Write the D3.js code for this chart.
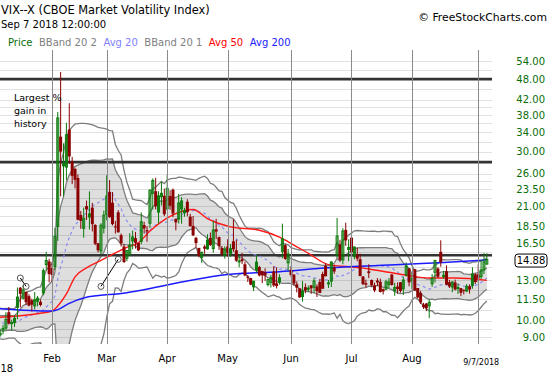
<!DOCTYPE html>
<html><head><meta charset="utf-8">
<script src="https://cdn.jsdelivr.net/npm/d3@7"></script>
<style>body{margin:0;background:#fff;} svg{display:block;} text{font-family:"DejaVu Sans",Verdana,sans-serif;}</style>
</head><body><svg id="c" width="550" height="375"></svg>
<script>
// ---------- data ----------
const priorCloses = [11.68,11.33,11.02,10.16,9.58,9.34,10.18,10.18,10.49,9.42,9.53,10.03,9.72,9.62,9.90,10.25,10.47,10.18,11.04];
const dates = ["01-02","01-03","01-04","01-05","01-08","01-09","01-10","01-11","01-12","01-16","01-17","01-18","01-19","01-22","01-23","01-24","01-25","01-26","01-29","01-30","01-31",
"02-01","02-02","02-05","02-06","02-07","02-08","02-09","02-12","02-13","02-14","02-15","02-16","02-20","02-21","02-22","02-23","02-26","02-27","02-28",
"03-01","03-02","03-05","03-06","03-07","03-08","03-09","03-12","03-13","03-14","03-15","03-16","03-19","03-20","03-21","03-22","03-23","03-26","03-27","03-28","03-29",
"04-02","04-03","04-04","04-05","04-06","04-09","04-10","04-11","04-12","04-13","04-16","04-17","04-18","04-19","04-20","04-23","04-24","04-25","04-26","04-27","04-30",
"05-01","05-02","05-03","05-04","05-07","05-08","05-09","05-10","05-11","05-14","05-15","05-16","05-17","05-18","05-21","05-22","05-23","05-24","05-25","05-29","05-30","05-31",
"06-01","06-04","06-05","06-06","06-07","06-08","06-11","06-12","06-13","06-14","06-15","06-18","06-19","06-20","06-21","06-22","06-25","06-26","06-27","06-28","06-29",
"07-02","07-03","07-05","07-06","07-09","07-10","07-11","07-12","07-13","07-16","07-17","07-18","07-19","07-20","07-23","07-24","07-25","07-26","07-27","07-30","07-31",
"08-01","08-02","08-03","08-06","08-07","08-08","08-09","08-10","08-13","08-14","08-15","08-16","08-17","08-20","08-21","08-22","08-23","08-24","08-27","08-28","08-29","08-30","08-31",
"09-04","09-05","09-06","09-07"];
const opens = [10.95,9.66,9.15,9.13,9.41,9.54,10.57,9.83,9.89,10.91,12.39,11.58,12.05,11.73,11.43,11.02,11.35,11.31,11.98,14.40,14.70,
14.09,14.23,18.44,33.05,27.34,27.12,34.60,28.09,26.80,25.27,19.86,18.22,21.05,19.61,20.84,18.63,16.55,15.73,18.27,
19.95,23.09,21.53,18.45,20.22,17.44,16.20,15.01,15.34,16.79,17.10,16.57,16.75,18.61,18.02,18.84,22.87,23.19,20.25,22.38,22.51,
20.70,22.49,23.43,19.38,19.36,20.66,20.16,21.66,19.66,18.51,17.13,16.05,15.10,16.19,15.95,17.13,15.98,18.12,17.21,16.03,15.28,
16.18,15.51,16.75,15.81,14.70,14.91,14.43,13.32,13.19,12.47,13.89,14.17,13.81,13.68,12.65,12.84,13.76,12.75,12.87,15.69,16.34,14.57,
13.92,13.49,12.67,12.34,11.71,12.44,12.35,12.59,12.43,12.49,12.87,13.55,14.29,12.76,12.93,14.14,15.31,16.41,14.84,18.04,15.89,
17.16,15.19,15.32,14.91,13.33,12.76,13.79,13.03,12.59,12.98,12.88,12.27,12.28,12.66,13.50,12.15,12.49,12.84,12.31,13.47,14.05,
12.97,13.98,12.37,11.98,11.11,11.19,11.02,12.72,13.70,14.04,15.64,13.33,13.80,12.84,12.45,12.82,12.32,12.36,12.22,12.13,12.51,12.58,13.51,
13.52,13.32,13.93,14.45];
const highs = [11.07,9.80,9.51,9.49,9.74,10.57,10.93,10.08,10.37,12.41,12.45,12.62,12.11,11.88,11.55,12.05,11.75,11.48,14.05,15.65,14.95,
14.64,18.30,38.80,50.30,31.64,36.17,41.06,28.98,27.01,25.88,20.39,20.84,21.82,23.17,21.50,18.72,16.57,18.84,20.45,
25.72,24.92,23.07,19.13,20.51,17.62,16.48,15.81,17.66,17.98,17.81,16.60,20.21,19.02,18.48,23.47,25.20,25.30,23.19,24.72,23.58,
25.84,23.33,23.59,19.42,22.80,22.31,20.84,22.01,20.02,19.74,17.24,16.05,15.64,16.38,17.54,17.73,19.11,19.38,17.27,16.24,16.21,
16.98,16.46,19.33,16.94,15.30,15.53,14.69,13.46,13.22,12.95,15.34,14.29,13.84,14.06,13.05,13.46,14.25,14.14,13.52,18.78,16.45,15.93,
14.25,13.53,12.91,12.37,12.95,12.74,12.57,12.61,13.18,12.67,13.09,13.75,14.55,13.03,14.72,14.39,19.50,16.92,18.24,18.90,16.96,
17.57,16.20,16.07,15.46,13.36,13.06,14.43,13.08,12.80,13.19,13.15,12.34,13.05,13.20,13.53,12.80,12.83,12.86,13.31,14.61,14.09,
13.61,13.99,12.37,12.14,11.24,11.22,11.49,13.54,14.85,14.15,16.86,13.83,14.33,13.04,12.93,13.06,12.73,12.36,12.27,12.69,12.67,14.15,13.61,
14.40,14.86,15.52,15.50];
const lows = [9.52,9.04,8.92,9.01,9.16,9.39,9.76,9.39,9.61,10.10,10.90,11.48,11.08,10.99,10.62,10.76,10.99,10.98,11.80,13.85,12.84,
12.87,13.89,16.80,22.42,22.42,24.89,27.71,24.28,23.62,19.21,18.16,17.15,19.24,18.07,17.86,16.33,15.59,15.41,17.63,
19.19,19.50,18.57,17.61,17.72,16.19,14.55,14.72,15.33,15.91,15.98,15.72,16.44,17.62,16.70,18.25,20.58,20.61,18.81,21.14,19.73,
20.45,20.56,19.59,17.99,18.80,18.78,19.65,19.71,18.42,17.32,16.07,15.09,14.57,15.45,15.86,16.26,15.55,16.99,15.85,15.26,14.97,
15.16,15.15,15.64,14.66,14.15,14.44,13.36,12.86,12.60,12.13,13.68,13.33,12.77,12.95,12.50,12.41,12.45,12.34,12.65,15.01,14.86,13.84,
13.32,12.57,12.02,11.61,11.33,11.95,12.05,11.91,12.00,11.67,11.98,12.31,13.35,12.37,12.45,13.55,15.04,14.69,14.44,16.27,14.72,
15.51,14.90,14.72,13.35,12.61,12.41,13.19,12.46,12.04,12.52,12.01,11.86,12.19,12.36,12.56,11.76,11.93,12.00,11.83,13.32,12.51,
12.29,12.15,11.56,11.15,10.80,10.65,10.17,12.46,12.82,13.22,14.21,13.13,12.59,12.37,12.04,12.18,11.90,11.73,11.86,12.04,11.93,12.31,12.69,
12.86,13.11,13.54,14.40];
const closes = [9.77,9.15,9.22,9.22,9.52,10.08,9.82,9.88,10.16,11.66,11.91,12.22,11.27,11.03,11.10,11.47,11.58,11.08,13.84,14.79,13.54,
13.47,17.31,37.32,29.98,27.73,33.46,29.06,25.61,24.97,19.26,19.13,19.46,20.60,20.02,18.72,16.49,15.80,18.59,19.85,
22.47,19.59,18.73,18.36,17.76,16.54,14.64,15.78,16.35,17.23,16.59,15.80,19.02,18.20,17.86,23.34,24.87,21.03,22.50,22.87,19.97,
23.62,21.10,20.06,18.94,21.49,21.77,20.47,20.24,18.49,17.41,16.56,15.25,15.60,15.96,16.88,16.34,18.02,17.84,16.24,15.41,15.93,
15.49,15.97,15.90,14.77,14.75,14.71,13.42,13.23,12.65,12.93,14.63,13.42,13.43,13.42,13.08,13.22,12.58,12.53,13.22,17.02,14.94,15.43,
13.46,12.74,12.40,11.64,12.13,12.18,12.35,12.34,12.94,12.12,11.98,12.31,13.35,12.79,14.64,13.77,17.33,14.85,17.91,16.85,16.09,
15.60,16.14,14.97,13.37,12.69,12.64,13.63,12.58,12.18,12.83,12.06,12.10,12.87,12.86,12.62,12.41,12.29,12.14,13.03,14.26,12.83,
13.15,12.19,11.64,11.27,10.93,10.85,11.27,13.16,14.78,13.31,14.64,13.45,12.64,12.49,12.86,12.25,12.41,11.99,12.16,12.50,12.25,13.53,12.86,
13.16,13.91,14.65,14.88];
const avg50Dates  = ["01-02","01-12","01-26","02-01","02-05","02-08","02-13","02-20","02-27","03-12","03-16","03-22","04-04","04-13","04-20","05-02","05-16","05-25","05-31","06-11","06-20","06-29","07-11","07-20","07-31","08-09","08-22","09-07"];
const avg50Values = [10.2,10.3,10.5,10.65,11.0,11.9,13.3,14.1,14.8,16.1,16.6,17.9,19.9,20.6,19.4,18.4,18.0,17.2,16.7,15.5,14.4,14.2,14.0,13.7,13.4,13.2,13.2,13.0];
const avg200Dates  = ["01-02","02-01","02-05","02-09","02-16","03-12","03-19","04-10","05-01","05-25","06-20","07-26","08-16","09-07"];
const avg200Values = [10.85,10.65,10.75,11.2,11.6,12.0,12.2,12.9,13.5,13.75,14.1,14.4,14.6,14.85];
const axisLabels = [54,48,42,38,34,30,26,23.5,21,18.5,16.5,13,11.5,10,9];
const gridValues = [54,51,48,45,42,40,38,36,34,32,30,28,26,24.7,23.5,22.2,21,19.7,18.5,17.5,16.5,15.6,14.2,13,12.2,11.5,10.7,10,9.5,9];
const levelLines = [48,28,15.3];
const monthTickDates  = ["02-01","03-01","04-02","05-01","06-01","07-02","08-01","09-04"];
const monthTickLabels = ["Feb","Mar","Apr","May","Jun","Jul","Aug","9/7/2018"];
const yearLabel = "18";
const legendItems = ["Price","BBand 20 2","Avg 20","BBand 20 1","Avg 50","Avg 200"];
const legendColors = ["#0a6e0a","#808080","#8080ff","#808080","#ff0000","#1a1aff"];
const noteLines = ["Largest %","gain in","history"];
const trendMarks = [[["01-17",13.2],["01-19",12.5]],[["02-27",12.5],["03-07",14.9]]];

// ---------- setup ----------
const svg = d3.select("#c");
const idxOf = d => dates.indexOf(d);
const x = d3.scaleLinear().domain([idxOf("02-01"), idxOf("09-04")]).range([52, 478.2]);
const y = d3.scaleLog().domain([9, 54]).range([337, 61]);
const yc = v => y(Math.max(v, 0.5));
const plot = {l:0, r:492, t:50, b:344};

svg.append("rect").attr("width",550).attr("height",375).attr("fill","#fff");
svg.append("clipPath").attr("id","clip").append("rect")
  .attr("x",plot.l).attr("y",plot.t).attr("width",plot.r-plot.l).attr("height",plot.b-plot.t);

// indicators
const all = priorCloses.concat(closes);
const P = priorCloses.length;
const ind = closes.map((c,i)=>{
  const w = all.slice(i+P-19, i+P+1);
  const m = d3.mean(w);
  const sd = Math.sqrt(d3.mean(w, v=>(v-m)*(v-m)));
  return {i, m, u1:m+sd, l1:m-sd, u2:m+2*sd, l2:m-2*sd};
});

const g = svg.append("g").attr("clip-path","url(#clip)");
// grid
g.selectAll(".gh").data(gridValues).join("line")
  .attr("x1",plot.l).attr("x2",plot.r).attr("y1",d=>Math.round(y(d))+0.5).attr("y2",d=>Math.round(y(d))+0.5)
  .attr("stroke","#e2e2e2").attr("stroke-width",1);
svg.selectAll(".gv").data(monthTickDates).join("line")
  .attr("x1",d=>Math.round(x(idxOf(d)))+0.5).attr("x2",d=>Math.round(x(idxOf(d)))+0.5)
  .attr("y1",plot.t).attr("y2",plot.b).attr("stroke","#8a8a8a").attr("stroke-width",1);

// bands
g.append("path").datum(ind)
  .attr("d", d3.area().x(d=>x(d.i)).y0(d=>yc(d.l1)).y1(d=>yc(d.u1)))
  .attr("fill","#000").attr("fill-opacity",0.13);
["u2","l2","u1","l1"].forEach(k=>{
  g.append("path").datum(ind).attr("d", d3.line().x(d=>x(d.i)).y(d=>yc(d[k])))
    .attr("fill","none").attr("stroke","#7d7d7d").attr("stroke-width",1.3);
});
// level lines
g.selectAll(".lv").data(levelLines).join("line")
  .attr("x1",plot.l).attr("x2",plot.r).attr("y1",d=>y(d)).attr("y2",d=>y(d))
  .attr("stroke","#333").attr("stroke-width",2.6);
// avg 20
g.append("path").datum(ind).attr("d", d3.line().x(d=>x(d.i)).y(d=>yc(d.m)))
  .attr("fill","none").attr("stroke","#8c8cf0").attr("stroke-width",1.2).attr("stroke-dasharray","3,3");
// avg 50 / 200
const maLine = d3.line().curve(d3.curveMonotoneX).x(d=>x(idxOf(d[0]))).y(d=>y(d[1]));
g.append("path").datum(avg50Dates.map((d,i)=>[d,avg50Values[i]])).attr("d",maLine)
  .attr("fill","none").attr("stroke","#ff1a1a").attr("stroke-width",1.4);
g.append("path").datum(avg200Dates.map((d,i)=>[d,avg200Values[i]])).attr("d",maLine)
  .attr("fill","none").attr("stroke","#1a1aff").attr("stroke-width",1.5);

// candles
const up = "#0a7a0a", dn = "#8b0000";
const cs = g.selectAll(".cd").data(closes.map((c,i)=>i)).join("g");
cs.append("line")
  .attr("x1",i=>x(i)).attr("x2",i=>x(i))
  .attr("y1",i=>y(highs[i])).attr("y2",i=>y(lows[i]))
  .attr("stroke",i=>closes[i]>=opens[i]?up:dn).attr("stroke-width",1);
cs.append("rect")
  .attr("x",i=>closes[i]>=opens[i]?x(i)-1:x(i)-1.5)
  .attr("width",i=>closes[i]>=opens[i]?2:3)
  .attr("y",i=>y(Math.max(opens[i],closes[i])))
  .attr("height",i=>Math.max(1, y(Math.min(opens[i],closes[i]))-y(Math.max(opens[i],closes[i]))))
  .attr("fill",i=>closes[i]>=opens[i]?"none":dn)
  .attr("stroke",i=>closes[i]>=opens[i]?up:"none").attr("stroke-width",1);

// trend marks
trendMarks.forEach(seg=>{
  const pts = seg.map(p=>[x(idxOf(p[0])), y(p[1])]);
  g.append("line").attr("x1",pts[0][0]).attr("y1",pts[0][1]).attr("x2",pts[1][0]).attr("y2",pts[1][1])
    .attr("stroke","#000").attr("stroke-width",1);
  pts.forEach(p=>g.append("circle").attr("cx",p[0]).attr("cy",p[1]).attr("r",3)
    .attr("fill","none").attr("stroke","#555").attr("stroke-width",1));
});

// note
svg.append("text").attr("x",14).attr("y",101).attr("font-size",9.5).attr("fill","#000")
  .selectAll("tspan").data(noteLines).join("tspan").attr("x",14).attr("dy",(d,i)=>i?12.8:0).text(d=>d);

// right axis labels
svg.selectAll(".yl").data(axisLabels).join("text")
  .attr("x",545).attr("y",d=>y(d)).attr("dy","0.36em").attr("text-anchor","end")
  .attr("font-size",10).attr("fill","#0a6e0a").text(d=>d.toFixed(2));
const last = closes[closes.length-1];
svg.append("rect").attr("x",515).attr("y",y(last)-5.5).attr("width",32).attr("height",13).attr("rx",3)
  .attr("fill","#fff").attr("stroke","#000").attr("stroke-width",1);
svg.append("text").attr("x",531).attr("y",y(last)+1).attr("dy","0.36em").attr("text-anchor","middle")
  .attr("font-size",10).attr("fill","#000").text(last.toFixed(2));

// x labels
svg.selectAll(".xl").data(monthTickDates).join("text")
  .attr("x",(d,i)=>x(idxOf(d)) + (i===monthTickDates.length-1?3:0))
  .attr("y",(d,i)=>i===monthTickDates.length-1?365:362)
  .attr("text-anchor","middle").attr("font-size",(d,i)=>i===monthTickDates.length-1?8:10)
  .attr("fill","#000").text((d,i)=>monthTickLabels[i]);
svg.append("text").attr("x",0.5).attr("y",372).attr("text-anchor","start").attr("font-size",10).text(yearLabel);

// header
svg.append("text").attr("x",1).attr("y",14).attr("font-size",11.4).attr("fill","#000").text("VIX--X (CBOE Market Volatility Index)");
svg.append("text").attr("x",1).attr("y",28).attr("font-size",10).attr("fill","#000").text("Sep 7 2018 12:00:00");
svg.append("text").attr("x",547).attr("y",21).attr("text-anchor","end").attr("font-size",10.8).attr("fill","#000").text("\u00A9 FreeStockCharts.com");
let lx = 8;
legendItems.forEach((t,i)=>{
  const tt = svg.append("text").attr("x",lx).attr("y",46).attr("font-size",10).attr("fill",legendColors[i]).text(t);
  lx += tt.node().getComputedTextLength() + 6.5;
});
</script></body></html>
